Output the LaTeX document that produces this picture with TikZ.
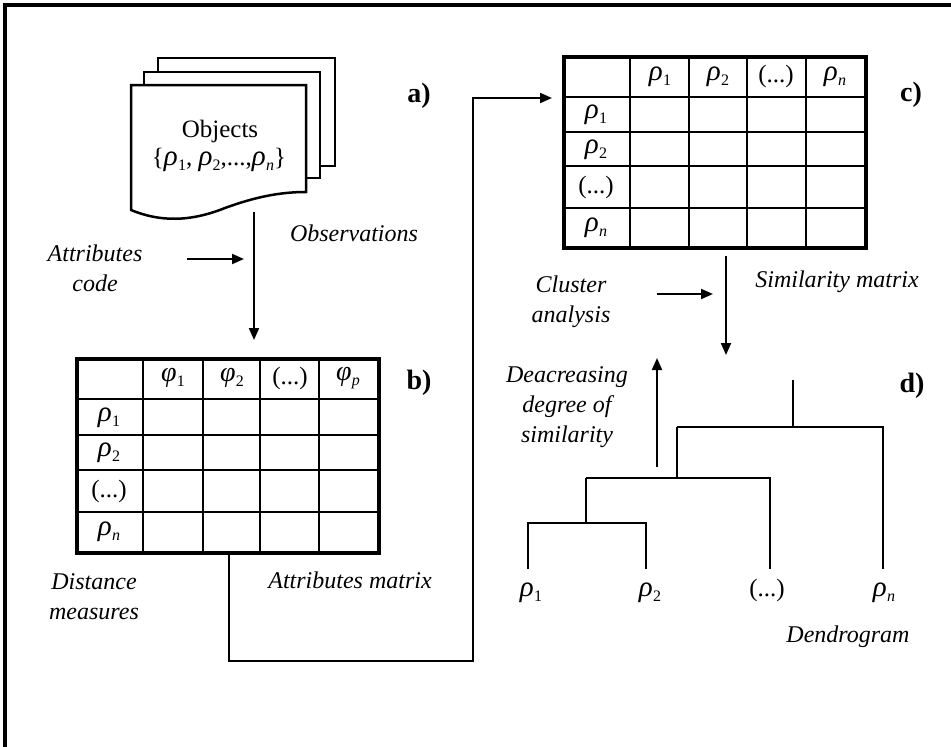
\documentclass[tikz,border=0pt]{standalone}
\usepackage{fontspec}
\setmainfont{Liberation Serif}
\usetikzlibrary{arrows.meta}
\newcommand\rr[1]{{\fontsize{29}{29}\selectfont\itshape ρ}\kern0.3pt\raisebox{-5pt}{\fontsize{16}{16}\selectfont #1}}
\newcommand\ff[1]{{\fontsize{28}{28}\selectfont\itshape φ}\kern0.3pt\raisebox{-5pt}{\fontsize{16}{16}\selectfont #1}}
\begin{document}
\begin{tikzpicture}[x=1pt,y=-1pt,
 lbl/.style={font=\fontsize{24}{30}\selectfont\itshape, align=center, inner sep=0pt},
 tag/.style={font=\fontsize{28}{28}\selectfont\bfseries, inner sep=0pt},
 cell/.style={font=\fontsize{25}{25}\selectfont, inner sep=0pt},
 arr/.style={line width=2pt,-{Triangle[length=12pt,width=10pt]}},
 grid/.style={line width=1.5pt},
 frame/.style={draw, line width=3.5pt, inner sep=0pt, anchor=north west, minimum width=302pt, minimum height=194pt},
 page/.style={draw, line width=2.5pt, fill=white},
 dend/.style={line width=2.5pt}]

\useasboundingbox (0,0) rectangle (951,747);
\draw[line width=3.5pt] (951,5) -- (5,5) -- (5,747);

% a) documents
\draw[page] (158,58) rectangle (335,166);
\draw[page] (144,72) rectangle (320,178);
\draw[page] (131,85) -- (306,85) -- (306,192) .. controls (280,192) and (255,197) .. (225,208) .. controls (190,222) and (160,222) .. (131,210) -- cycle;
\node[font=\fontsize{25}{25}\selectfont, inner sep=0pt] (obj) at (220,131) {Objects};
\node[font=\fontsize{25}{25}\selectfont, inner sep=0pt] (objset) at (219,160) {\{\rr{1}, \rr{2},...,\rr{\itshape n}\}};
\node[tag] (ta) at (419,96) {a)};
\node[lbl] (obs) at (354,233) {Observations};
\node[lbl] (acode) at (95,268) {Attributes\\code};
\coordinate (docbot) at (254,212);
\coordinate (acodeend) at (244,259);
\coordinate (acodestart) at (187,259);

% b) attributes matrix
\foreach \x in {143,203,260,319} \draw[grid] (\x,357) -- (\x,551);
\foreach \y in {399,435,470,512} \draw[grid] (75,\y) -- (377,\y);
\node[frame] (tb) at (75,357) {};
\node[cell] (b01) at (173,378) {\ff{1}};
\node[cell] (b02) at (232,378) {\ff{2}};
\node[cell] (b03) at (290,378) {(...)};
\node[cell] (b04) at (348,378) {\ff{\itshape p}};
\node[cell] (b10) at (109,418) {\rr{1}};
\node[cell] (b20) at (109,453) {\rr{2}};
\node[cell] (b30) at (109,491) {(...)};
\node[cell] (b40) at (109,532) {\rr{\itshape n}};
\node[tag] (tbl) at (419,383) {b)};
\node[lbl] (dist) at (94,597) {Distance\\measures};
\node[lbl] (amat) at (350,580) {Attributes matrix};

% c) similarity matrix
\foreach \x in {630,689,747,806} \draw[grid] (\x,55) -- (\x,246);
\foreach \y in {97,132,166,208} \draw[grid] (562,\y) -- (865,\y);
\node[frame, minimum height=191pt] (tc) at (562,55) {};
\node[cell] (c01) at (660,77) {\rr{1}};
\node[cell] (c02) at (718,77) {\rr{2}};
\node[cell] (c03) at (776,76) {(...)};
\node[cell] (c04) at (835,77) {\rr{\itshape n}};
\node[cell] (c10) at (596,115) {\rr{1}};
\node[cell] (c20) at (596,150) {\rr{2}};
\node[cell] (c30) at (596,187) {(...)};
\node[cell] (c40) at (596,228) {\rr{\itshape n}};
\node[tag] (tcl) at (911,95) {c)};
\node[lbl] (smat) at (837,282) {Similarity matrix};
\node[lbl] (clus) at (571,302) {Cluster\\analysis};
\node[lbl] (deg) at (567,407) {Deacreasing\\degree of\\similarity};
\node[tag] (tdl) at (912,386) {d)};

% connectors
\coordinate (bx) at (229,0);
\coordinate (k1) at (229,661);
\coordinate (k2) at (473,661);
\coordinate (k3) at (473,98);
\coordinate (abot) at (254,340);
\draw[arr] (docbot) -- (abot);
\draw[arr] (acodestart) -- (acodeend);
\draw[arr, shorten >=10pt] (tb.south -| bx) -- (k1) -- (k2) -- (k3) -- (tc.west |- k3);

\coordinate (cx) at (726,0);
\coordinate (cbot) at (726,355);
\draw[arr, shorten <=6pt] (tc.south -| cx) -- (cbot);
\coordinate (clA) at (657,294);
\coordinate (clB) at (713,294);
\draw[arr] (clA) -- (clB);
\coordinate (upA) at (657,467);
\coordinate (upB) at (657,358);
\draw[arr] (upA) -- (upB);

% d) dendrogram
\node[cell] (l1) at (531,593) {\rr{1}};
\node[cell] (l2) at (650,593) {\rr{2}};
\node[cell] (l3) at (767,590) {(...)};
\node[cell] (l4) at (884,593) {\rr{\itshape n}};
\node[lbl] (dendro) at (848,637) {Dendrogram};
\draw[dend] (528,569) -- (528,523) -- (646,523) -- (646,569);
\draw[dend] (586,523) -- (586,478);
\draw[dend] (586,478) -- (770,478) -- (770,569);
\draw[dend] (677,478) -- (677,427);
\draw[dend] (677,427) -- (883,427) -- (883,569);
\draw[dend] (793,427) -- (793,380);
\end{tikzpicture}
\end{document}
